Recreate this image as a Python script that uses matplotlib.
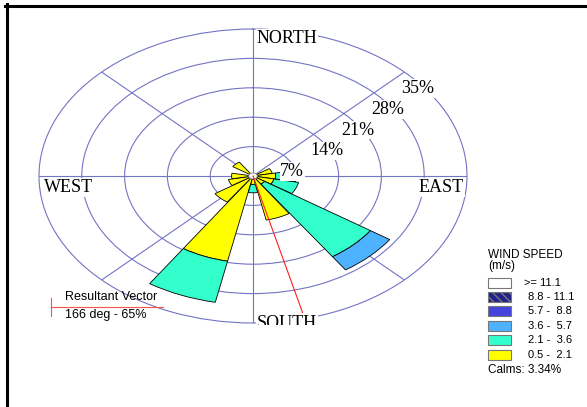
import numpy as np
import matplotlib
matplotlib.use("Agg")
import matplotlib.pyplot as plt
from matplotlib.patches import Rectangle
from matplotlib.lines import Line2D
from matplotlib.transforms import ScaledTranslation, Bbox, TransformedBbox

# ---------------- data ----------------
directions = ['N', 'NNE', 'NE', 'ENE', 'E', 'ESE', 'SE', 'SSE',
              'S', 'SSW', 'SW', 'WSW', 'W', 'WNW', 'NW', 'NNW']
dir_deg = [0, 22.5, 45, 67.5, 90, 112.5, 135, 157.5,
           180, 202.5, 225, 247.5, 270, 292.5, 315, 337.5]
spd_0_5_2_1 = [0, 0, 0, 2.5, 3.0, 2.8, 1.6, 10.0, 1.3, 20.0, 6.8, 3.4, 2.8, 0, 3.3, 0]
spd_2_1_3_6 = [0, 0, 0, 0, 3.4, 4.1, 20.9, 0, 2.0, 10.0, 0, 0, 0, 0, 0, 0]
spd_3_6_5_7 = [0, 0, 0, 0, 0, 0, 3.8, 0, 0, 0, 0, 0, 0, 0, 0, 0]
spd_5_7_8_8 = [0] * 16
spd_8_8_11_1 = [0] * 16
spd_ge_11_1 = [0] * 16
series = [spd_0_5_2_1, spd_2_1_3_6, spd_3_6_5_7, spd_5_7_8_8, spd_8_8_11_1, spd_ge_11_1]
bin_labels = ['0.5 -  2.1', '2.1 -  3.6', '3.6 -  5.7', '5.7 -  8.8', '8.8 - 11.1', '>= 11.1']
bin_colors = ['#FFFF00', '#33FFCC', '#4DB2FF', '#4444DD', '#22228A', '#FFFFFF']
ring_ticks = [7, 14, 21, 28, 35]
ring_labels = ['7%', '14%', '21%', '28%', '35%']
calm_radius = 0.7
calms_text = 'Calms: 3.34%'
resultant_dir = 166
resultant_len = 33.5
resultant_text = '166 deg - 65%'

gridc = '#7474C4'
serif = ['Liberation Serif', 'DejaVu Serif']
sans = ['Liberation Sans', 'DejaVu Sans']

W, H = 587, 407
fig = plt.figure(figsize=(W / 100, H / 100), dpi=100)
fig.patch.set_facecolor('white')

def fx(px):
    return px / W

def fy(py):
    return 1 - py / H

cx, cy, rx, ry = 253, 176, 214, 147
ax = fig.add_axes([fx(cx - rx), fy(cy + ry), 2 * rx / W, 2 * ry / H], projection='polar')
ax.set_aspect('auto')
ax.set_theta_zero_location('N')
ax.set_theta_direction(-1)
ax.set_ylim(0, 35)
ax.set_rticks(ring_ticks[:-1])
ax.set_yticklabels([])
ax.set_xticks(np.radians(np.arange(0, 360, 45)))
ax.set_xticklabels([])
ax.grid(True, color=gridc, lw=0.8)
ax.spines['polar'].set_color(gridc)
ax.spines['polar'].set_linewidth(0.8)
ax.set_facecolor('white')
ax.set_axisbelow(True)

theta = np.radians(dir_deg)
width = np.radians(22.5) * 0.97
bottom = np.full(16, calm_radius)
for vals, col in zip(series, bin_colors):
    v = np.array(vals, dtype=float)
    mask = v > 0
    if mask.any():
        ax.bar(theta[mask], v[mask], width=width, bottom=bottom[mask], color=col,
               edgecolor='black', linewidth=0.6, zorder=3)
    bottom = bottom + v

# calm circle
tt = np.linspace(0, 2 * np.pi, 100)
ax.fill(tt, np.full_like(tt, calm_radius), facecolor='white', edgecolor='#888888', lw=0.6, zorder=4)

# resultant vector
ax.plot([np.radians(resultant_dir)] * 2, [0, resultant_len], color='#FF2020', lw=0.8, zorder=5)

# ring labels
for r, lab in zip(ring_ticks, ring_labels):
    tr = ax.transData + ScaledTranslation(-3 / 100, -8 / 100, fig.dpi_scale_trans)
    ax.text(np.radians(45), r, lab, transform=tr, ha='left', va='top', fontsize=13,
            family=serif, zorder=6,
            bbox=dict(facecolor='white', edgecolor='none', pad=0.5))

# compass labels
bb = dict(facecolor='white', edgecolor='none', pad=0.5)
fig.text(fx(257), fy(30), 'NORTH', ha='left', va='top', fontsize=13, family=serif, bbox=bb, zorder=6)
fig.text(fx(44), fy(179), 'WEST', ha='left', va='top', fontsize=13, family=serif, bbox=bb, zorder=6)
fig.text(fx(464), fy(179), 'EAST', ha='right', va='top', fontsize=13, family=serif, bbox=bb, zorder=6)
st = fig.text(fx(257), fy(315), 'SOUTH', ha='left', va='top', fontsize=13, family=serif, bbox=bb, zorder=6)
st.set_clip_box(TransformedBbox(Bbox.from_extents(0, fy(325), 1, 1), fig.transFigure))
st.set_clip_on(True)

# resultant vector legend
fig.add_artist(Line2D([fx(51), fx(51)], [fy(298), fy(316)], color='#FF5050', lw=0.8))
fig.add_artist(Line2D([fx(51), fx(163)], [fy(307), fy(307)], color='#FF5050', lw=0.8))
fig.text(fx(65), fy(300), 'Resultant Vector', ha='left', va='baseline', fontsize=9, family=sans)
fig.text(fx(65), fy(318), resultant_text, ha='left', va='baseline', fontsize=9, family=sans)

# wind speed legend
fig.text(fx(488), fy(257.5), 'WIND SPEED', ha='left', va='baseline', fontsize=8.5, family=sans)
fig.text(fx(488), fy(269), '(m/s)', ha='left', va='baseline', fontsize=8.5, family=sans)
box_tops = [277.7, 291.7, 306.3, 321, 335.3, 350]
order = list(range(5, -1, -1))
for top, i in zip(box_tops, order):
    rect = Rectangle((fx(488), fy(top + 10)), fx(23), 10 / H, transform=fig.transFigure,
                     facecolor=bin_colors[i], edgecolor='#777777', lw=0.8,
                     hatch='\\\\\\\\' if i == 4 else None)
    fig.add_artist(rect)
    xl = 524 if i == 5 else 528
    fig.text(fx(xl), fy(top + 5), bin_labels[i], ha='left', va='center', fontsize=8, family=sans)
fig.text(fx(488), fy(373), calms_text, ha='left', va='baseline', fontsize=8.5, family=sans)

# frame
fig.add_artist(Line2D([fx(6.5), fx(6.5)], [0, fy(4)], color='black', lw=2.2))
fig.add_artist(Line2D([fx(5), 1], [fy(5.5), fy(5.5)], color='black', lw=2.2))

fig.savefig('out.png', dpi=100)
